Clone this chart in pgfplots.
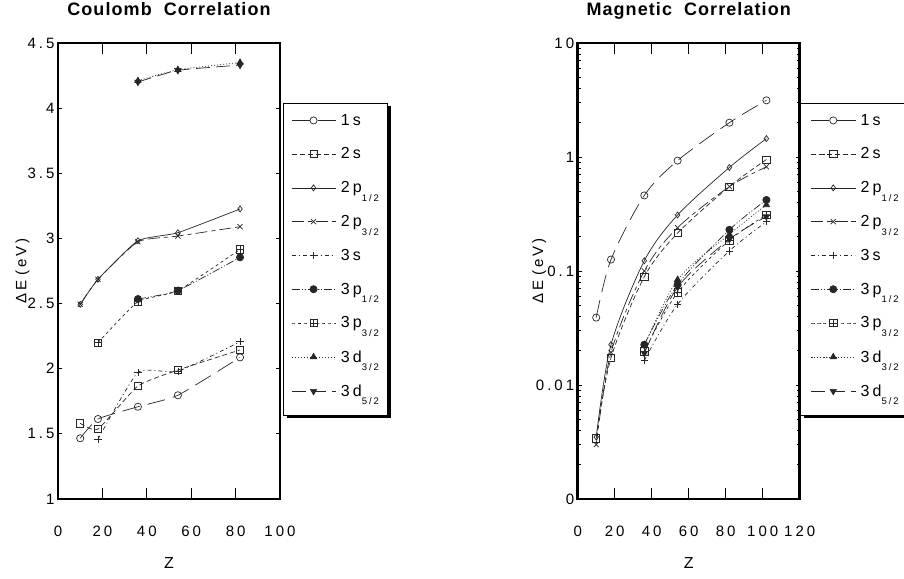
\documentclass[border=0pt]{standalone}
\usepackage{fontspec}
\setmainfont{Liberation Sans}
\newfontfamily\spc[LetterSpace=20]{Liberation Sans}
\newfontfamily\ttl[LetterSpace=6]{Liberation Sans}
\usepackage{pgfplots}
\pgfplotsset{compat=1.18}

% square with a cross inside
\pgfdeclareplotmark{boxplus}{%
  \pgfpathrectangle{\pgfpoint{-\pgfplotmarksize}{-\pgfplotmarksize}}{\pgfpoint{2\pgfplotmarksize}{2\pgfplotmarksize}}%
  \pgfpathmoveto{\pgfpoint{-\pgfplotmarksize}{0pt}}\pgfpathlineto{\pgfpoint{\pgfplotmarksize}{0pt}}%
  \pgfpathmoveto{\pgfpoint{0pt}{-\pgfplotmarksize}}\pgfpathlineto{\pgfpoint{0pt}{\pgfplotmarksize}}%
  \pgfusepathqstroke}

\newcommand{\sub}[1]{\raisebox{-8.5pt}{\fontsize{9.5}{10}\selectfont #1}}

\pgfplotsset{
  ser/.style={black!85, line width=0.7pt, smooth, mark size=3.6pt, mark options={solid, line width=0.7pt}},
  s1s/.style={ser, dash pattern=on 18pt off 8pt, mark=o},
  s2s/.style={ser, dash pattern=on 5pt off 3pt, mark=square},
  s2pa/.style={ser, solid, mark=diamond, mark size=3pt},
  s2pb/.style={ser, dash pattern=on 12pt off 4pt on 4pt off 4pt, mark=x},
  s3s/.style={ser, dash pattern=on 4pt off 3pt on 1pt off 3pt, mark=+},
  s3pa/.style={ser, dash pattern=on 8pt off 2pt on 1pt off 2pt on 1pt off 2pt, mark=*},
  s3pb/.style={ser, dash pattern=on 3pt off 3pt, mark=boxplus},
  s3da/.style={ser, dash pattern=on 1pt off 2pt, mark=triangle*},
  s3db/.style={ser, dash pattern=on 14pt off 6pt, mark=triangle*, mark options={solid, rotate=180}},
  panel/.style={
    scale only axis, width=222pt, height=456pt,
    axis line style={line width=2.6pt},
    tick align=inside,
    xtick style={black, line width=0.8pt, /pgfplots/major tick length=11pt},
    ytick style={black, line width=0.8pt, /pgfplots/major tick length=4pt},
    minor tick num=0,
    ticklabel style={font=\spc\fontsize{15}{18}\selectfont},
    xticklabel style={anchor=center, yshift=-32.7pt},
    xlabel style={at={(axis description cs:0.5,0)}, anchor=center, yshift=-64pt, font=\fontsize{16}{18}\selectfont},
    ylabel style={anchor=center, font=\spc\fontsize{15}{18}\selectfont},
    title style={at={(axis description cs:0.5,1)}, anchor=base, yshift=21pt, font=\ttl\bfseries\fontsize{18}{20}\selectfont},
    xlabel={Z},
    ylabel={ΔE\hspace{5pt}(eV)},
    legend image code/.code={\draw[mark repeat=2, mark phase=2, ##1] plot coordinates {(0pt,0pt) (22pt,0pt) (44pt,0pt)};},
    legend cell align=left,
    legend style={at={(1,1)}, anchor=north west, xshift=5pt, yshift=-64pt,
      draw=none, fill=none,
      font=\spc\fontsize{16}{19}\selectfont, inner xsep=6pt, inner ysep=5pt,
      row sep=17.1pt, column sep=3pt},
  },
}

\begin{document}
\begin{tikzpicture}
% legend frames with their shadows, drawn underneath the entries
\fill[black] (286.5pt,159.5pt) rectangle (390.5pt,471.5pt);
\filldraw[fill=white, draw=black, line width=0.8pt] (283pt,163pt) rectangle (387pt,475pt);
\fill[black] (803.5pt,159.5pt) rectangle (912pt,471.5pt);
\filldraw[fill=white, draw=black, line width=0.8pt] (800pt,163pt) rectangle (908pt,475pt);

% ---------------- Coulomb correlation ----------------
\begin{axis}[panel, at={(58pt,79pt)}, anchor=south west,
  title={Coulomb\hspace{12pt}Correlation},
  xmin=0, xmax=100, ymin=1, ymax=4.5,
  xtick={0,20,40,60,80,100}, xticklabels={0,20,40,60,80,100},
  ytick={1,1.5,2,2.5,3,3.5,4,4.5}, yticklabels={1,1.5,2,2.5,3,3.5,4,4.5},
  ylabel style={at={(axis description cs:-0.16,0.5)}},
  every axis plot/.append style={tension=0.3}]
\addplot[s1s]  coordinates {(10,1.466)(18,1.614)(36,1.708)(54,1.796)(82,2.087)};
\addplot[s2s]  coordinates {(10,1.581)(18,1.537)(36,1.867)(54,1.990)(82,2.144)};
\addplot[s2pa] coordinates {(10,2.494)(18,2.686)(36,2.982)(54,3.044)(82,3.226)};
\addplot[s2pb] coordinates {(10,2.494)(18,2.686)(36,2.975)(54,3.018)(82,3.090)};
\addplot[s3s]  coordinates {(18,1.458)(36,1.972)(54,1.980)(82,2.207)};
\addplot[s3pa] coordinates {(36,2.535)(54,2.600)(82,2.855)};
\addplot[s3pb] coordinates {(18,2.200)(36,2.514)(54,2.599)(82,2.916)};
\addplot[s3da] coordinates {(36,4.210)(54,4.295)(82,4.350)};
\addplot[s3db] coordinates {(36,4.200)(54,4.290)(82,4.330)};
\legend{1s, 2s, 2p\sub{1/2}, 2p\sub{3/2}, 3s, 3p\sub{1/2}, 3p\sub{3/2}, 3d\sub{3/2}, 3d\sub{5/2}}
\end{axis}

% ---------------- Magnetic correlation ----------------
\begin{axis}[panel, at={(577.7pt,79pt)}, anchor=south west,
  title={Magnetic\hspace{12pt}Correlation},
  ymode=log,
  xmin=0, xmax=120, ymin=0.001, ymax=10,
  xtick={0,20,40,60,80,100,120}, xticklabels={0,20,40,60,80,100,120},
  ytick={0.001,0.01,0.1,1,10}, yticklabels={0,0.01,0.1,1,10},
  ylabel style={at={(axis description cs:-0.173,0.5)}}]
\addplot[s1s]  coordinates {(10,0.039)(18,0.126)(36,0.46)(54,0.93)(82,2.0)(102,3.14)};
\addplot[s2s]  coordinates {(10,0.0034)(18,0.0173)(36,0.089)(54,0.215)(82,0.55)(102,0.95)};
\addplot[s2pa] coordinates {(10,0.0035)(18,0.0226)(36,0.123)(54,0.31)(82,0.81)(102,1.45)};
\addplot[s2pb] coordinates {(10,0.0030)(18,0.0193)(36,0.100)(54,0.24)(82,0.55)(102,0.82)};
\addplot[s3s]  coordinates {(36,0.0164)(54,0.051)(82,0.150)(102,0.27)};
\addplot[s3pa] coordinates {(36,0.0226)(54,0.076)(82,0.230)(102,0.42)};
\addplot[s3pb] coordinates {(36,0.0197)(54,0.065)(82,0.186)(102,0.31)};
\addplot[s3da] coordinates {(36,0.0220)(54,0.084)(82,0.210)(102,0.38)};
\addplot[s3db] coordinates {(36,0.0190)(54,0.072)(82,0.190)(102,0.30)};
\legend{1s, 2s, 2p\sub{1/2}, 2p\sub{3/2}, 3s, 3p\sub{1/2}, 3p\sub{3/2}, 3d\sub{3/2}, 3d\sub{5/2}}
\end{axis}
\pgfresetboundingbox
\path[use as bounding box] (0,0) rectangle (904pt,578pt);
\end{tikzpicture}
\end{document}
